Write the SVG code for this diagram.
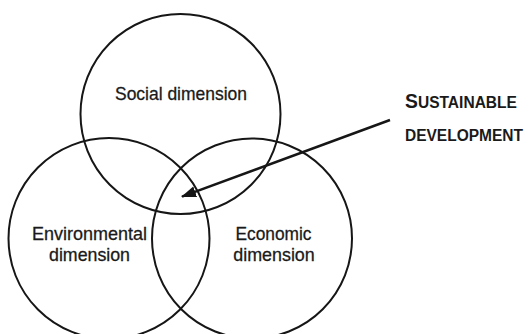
<svg xmlns="http://www.w3.org/2000/svg" width="529" height="334" viewBox="0 0 529 334">
<style>
.c{fill:none;stroke:#161616;stroke-width:2}
.t{font-family:"Liberation Sans",Arial,sans-serif;font-size:18.5px;fill:#1a1a1a;stroke:#1a1a1a;stroke-width:0.3;text-anchor:middle}
.h{font-family:"Liberation Sans",Arial,sans-serif;font-weight:bold;fill:#1a1a1a}
.a{stroke:#161616;stroke-width:2.5;fill:none}
</style>
<defs>
<marker id="ah" markerUnits="userSpaceOnUse" markerWidth="16" markerHeight="12" refX="14" refY="6" orient="auto" viewBox="0 0 16 12">
<path d="M0,0.5 L15,6 L0,11.5 Z" fill="#161616"/>
</marker>
</defs>
<rect width="529" height="334" fill="#fff"/>
<g id="social">
<circle class="c" cx="180.5" cy="114" r="100"/>
<text class="t" x="181" y="100" textLength="132" lengthAdjust="spacingAndGlyphs">Social dimension</text>
</g>
<g id="environmental">
<circle class="c" cx="109" cy="238.5" r="100.5"/>
<text class="t" x="89.5" y="240" textLength="115" lengthAdjust="spacingAndGlyphs">Environmental</text>
<text class="t" x="89.5" y="261" textLength="81" lengthAdjust="spacingAndGlyphs">dimension</text>
</g>
<g id="economic">
<circle class="c" cx="252" cy="238.5" r="100"/>
<text class="t" x="273.5" y="240" textLength="76" lengthAdjust="spacingAndGlyphs">Economic</text>
<text class="t" x="274" y="261" textLength="81.5" lengthAdjust="spacingAndGlyphs">dimension</text>
</g>
<g id="sustainable">
<text class="h" x="405" y="108" textLength="112" lengthAdjust="spacingAndGlyphs"><tspan font-size="20.5">S</tspan><tspan font-size="16.5">USTAINABLE</tspan></text>
<text class="h" x="405" y="141" font-size="16" textLength="118" lengthAdjust="spacingAndGlyphs">DEVELOPMENT</text>
</g>
<g id="connectors">
<line class="a" x1="390" y1="120" x2="182" y2="196.6" marker-end="url(#ah)"/>
</g>
</svg>
